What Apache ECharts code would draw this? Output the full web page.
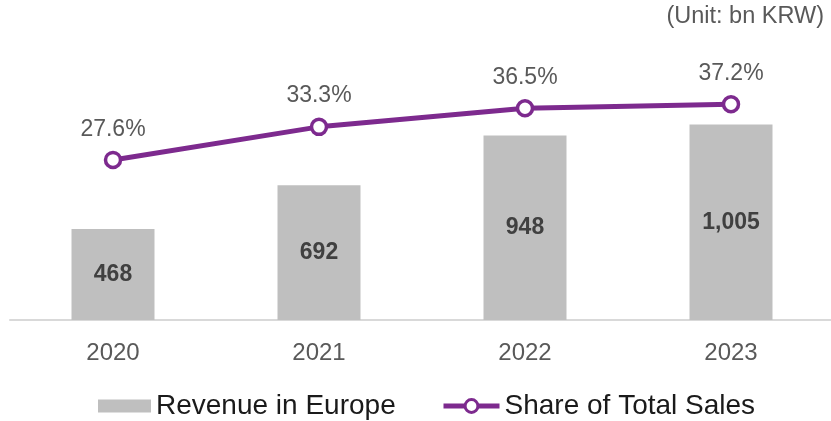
<!DOCTYPE html>
<html>
<head>
<meta charset="utf-8">
<script src="https://cdn.jsdelivr.net/npm/echarts@6/dist/echarts.min.js"></script>
<style>
html,body{margin:0;padding:0;background:#fff;overflow:hidden;}
#chart{width:834px;height:421px;}
</style>
</head>
<body>
<div id="chart"></div>
<script>
var years = ['2020', '2021', '2022', '2023'];
var revenue = [468, 692, 948, 1005];
var share = [27.6, 33.3, 36.5, 37.2];
var unitText = '(Unit: bn KRW)';
var barName = 'Revenue in Europe';
var lineName = 'Share of Total Sales';

var FONT = '"Liberation Sans", Arial, sans-serif';
var PURPLE = '#7D2A8E';

var chart = echarts.init(document.getElementById('chart'));
chart.setOption({
  animation: false,
  backgroundColor: '#ffffff',
  textStyle: { fontFamily: FONT },
  title: {
    text: unitText, right: 10, top: 5, padding: 0,
    textStyle: { fontFamily: FONT, fontSize: 23.5, fontWeight: 'normal', color: '#595959' }
  },
  legend: [
    {
      data: [{ name: barName, icon: 'rect' }], left: 98, top: 392, padding: 0,
      itemWidth: 53, itemHeight: 13,
      textStyle: { fontFamily: FONT, fontSize: 28, color: '#1a1a1a' }
    },
    {
      data: [lineName], left: 441, top: 392, padding: 0,
      itemWidth: 56, itemHeight: 16,
      lineStyle: { width: 5, color: PURPLE },
      itemStyle: { color: '#ffffff', borderColor: PURPLE, borderWidth: 3 },
      textStyle: { fontFamily: FONT, fontSize: 28, color: '#1a1a1a' }
    }
  ],
  grid: { left: 10, right: 0, top: 30, bottom: 101, containLabel: false },
  xAxis: {
    type: 'category', data: years,
    axisLine: { lineStyle: { color: '#d9d9d9', width: 2 } },
    axisTick: { show: false },
    axisLabel: { fontFamily: FONT, fontSize: 24, color: '#595959', margin: 21 }
  },
  yAxis: [
    { type: 'value', min: 0, max: 1490, show: false, splitLine: { show: false } },
    { type: 'value', min: 0, max: 50, show: false, splitLine: { show: false } }
  ],
  series: [
    {
      name: barName, type: 'bar', data: revenue, barWidth: 83,
      itemStyle: { color: '#bfbfbf' },
      label: {
        show: true, position: 'inside', fontFamily: FONT, fontSize: 23, fontWeight: 'bold', color: '#404040',
        formatter: function (p) { return p.value.toLocaleString('en-US'); }
      }
    },
    {
      name: lineName, type: 'line', yAxisIndex: 1, data: share,
      symbol: 'circle', symbolSize: 15,
      lineStyle: { color: PURPLE, width: 5 },
      itemStyle: { color: '#ffffff', borderColor: PURPLE, borderWidth: 3.5 },
      label: {
        show: true, position: 'top', distance: 10, fontFamily: FONT, fontSize: 23, color: '#595959',
        formatter: function (p) { return p.value.toFixed(1) + '%'; }
      }
    }
  ]
});
</script>
</body>
</html>
